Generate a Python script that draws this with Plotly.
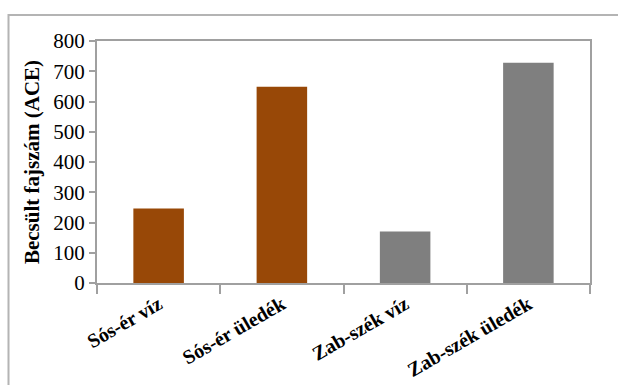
import plotly.graph_objects as go

categories = ["Sós-ér víz", "Sós-ér üledék", "Zab-szék víz", "Zab-szék üledék"]
values = [246, 649, 170, 728]
colors = ["#984807", "#984807", "#7F7F7F", "#7F7F7F"]
y_ticks = [0, 100, 200, 300, 400, 500, 600, 700, 800]

W, H = 618, 385
L, R, T, B = 97, 28, 41, 102
pw = W - L - R
ph = H - T - B

FONT = "Liberation Serif, Times New Roman, serif"

fig = go.Figure(go.Bar(x=categories, y=values, marker=dict(color=colors, line=dict(width=0)), width=0.41))

axis_col = "#A0A0A0"
fig.update_layout(
    width=W, height=H,
    margin=dict(l=L, r=R, t=T, b=B),
    plot_bgcolor="white", paper_bgcolor="white",
    showlegend=False,
    font=dict(family=FONT, color="black"),
    xaxis=dict(
        showline=True, linecolor=axis_col, linewidth=2, mirror=True,
        ticks="outside", tickson="boundaries", ticklen=9, tickcolor=axis_col, tickwidth=2,
        tickangle=-30, tickfont=dict(family=FONT, size=20, color="black", weight="bold"),
        showgrid=False, automargin=False,
    ),
    yaxis=dict(
        range=[0, 800], tickvals=y_ticks,
        showline=True, linecolor=axis_col, linewidth=2, mirror=True,
        ticks="outside", ticklen=6, tickcolor=axis_col, tickwidth=2,
        tickfont=dict(family=FONT, size=21, color="black"),
        showgrid=False, zeroline=False, automargin=False,
        title=dict(text="Becsült fajszám (ACE)", standoff=8,
                   font=dict(family=FONT, size=21, color="black", weight="bold")),
    ),
)

# outer chart-area border (partially out of frame)
x0 = (8.5 - L) / pw
y1 = (H - B - 15) / ph
fig.add_shape(type="rect", xref="paper", yref="paper",
              x0=x0, x1=(W + 20 - L) / pw, y0=-1.0, y1=y1,
              line=dict(color="#B4B4B4", width=2), fillcolor="rgba(0,0,0,0)", layer="below")

fig.write_html("out.html")
